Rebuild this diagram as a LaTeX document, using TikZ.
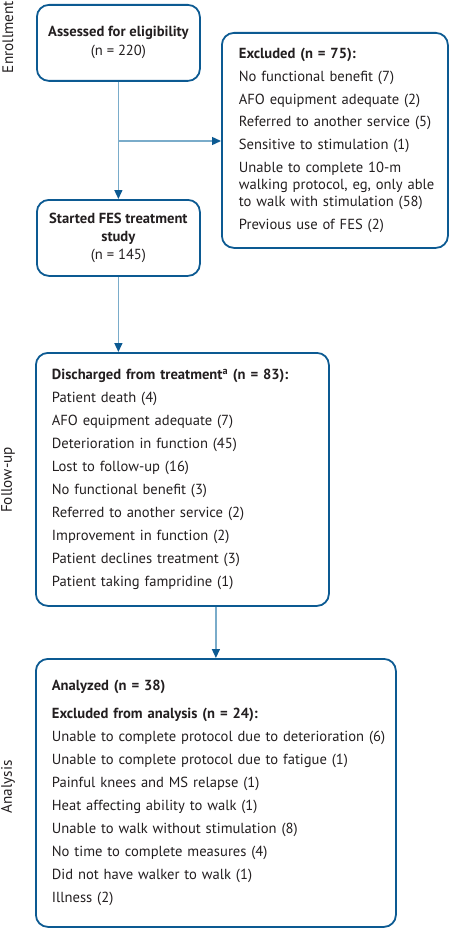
\documentclass[tikz,border=0pt]{standalone}
\usepackage{fontspec}
\setmainfont{PT Sans}
\usetikzlibrary{arrows.meta,calc}
\definecolor{boxblue}{RGB}{12,90,146}
\definecolor{lineblue}{RGB}{122,172,202}
\definecolor{txt}{RGB}{35,31,32}
\hbadness=10000 \hfuzz=100pt
\begin{document}
\begin{tikzpicture}[x=1pt,y=-1pt,
  box/.style={draw=boxblue,line width=1.8pt,rounded corners=12pt,anchor=north west,
    inner sep=0pt,text=txt},
  listbox/.style={box,align=left,font=\fontsize{14.6}{23}\selectfont},
  conn/.style={draw=lineblue,line width=1.4pt,
    -{Triangle[length=9pt,width=8pt,color=boxblue,fill=boxblue]}},
  side/.style={rotate=90,text=txt,font=\fontsize{15.2}{16}\selectfont}]
\useasboundingbox (0,0) rectangle (449,928);
% boxes
\node[box,minimum width=163pt,minimum height=76pt,align=center,
  font=\fontsize{14.6}{19}\selectfont] (a) at (36,4)
  {\textbf{Assessed for eligibility}\\(n = 220)};
\node[box,minimum width=163pt,minimum height=76pt,align=center,
  font=\fontsize{14.6}{18}\selectfont] (b) at (36,199)
  {\textbf{Started FES treatment}\\\textbf{study}\\(n = 145)};
\node[listbox,minimum width=226pt,minimum height=215pt,text width=192pt,
  inner xsep=17pt,font=\fontsize{14.6}{17}\selectfont] (ex) at (221,32)
  {\mbox{\textbf{Excluded (n = 75):}}\\[5.7pt]
   \mbox{No functional benefit (7)}\\[5.7pt]
   \mbox{AFO equipment adequate (2)}\\[5.7pt]
   \mbox{Referred to another service (5)}\\[5.7pt]
   \mbox{Sensitive to stimulation (1)}\\[5.7pt]
   \mbox{Unable to complete 10-m}\\
   \mbox{walking protocol, eg, only able}\\
   \mbox{to walk with stimulation (58)}\\[5.7pt]
   \mbox{Previous use of FES (2)}};
\node[listbox,minimum width=293pt,minimum height=253pt,text width=261pt,
  inner xsep=16pt] (d) at (35,352)
  {\mbox{\textbf{Discharged from treatment\textsuperscript{a} (n = 83):}}\\
   Patient death (4)\\
   AFO equipment adequate (7)\\
   Deterioration in function (45)\\
   Lost to follow-up (16)\\
   No functional benefit (3)\\
   \mbox{Referred to another service (2)}\\
   Improvement in function (2)\\
   \mbox{Patient declines treatment (3)}\\
   \mbox{Patient taking fampridine (1)}};
\node[listbox,minimum width=360pt,minimum height=268pt,text width=328pt,
  inner xsep=16pt] (an) at (35,658)
  {\mbox{\textbf{Analyzed (n = 38)}}\\[5pt]
   \mbox{\textbf{Excluded from analysis (n = 24):}}\\
   \mbox{Unable to complete protocol due to deterioration (6)}\\
   \mbox{Unable to complete protocol due to fatigue (1)}\\
   \mbox{Painful knees and MS relapse (1)}\\
   \mbox{Heat affecting ability to walk (1)}\\
   \mbox{Unable to walk without stimulation (8)}\\
   \mbox{No time to complete measures (4)}\\
   \mbox{Did not have walker to walk (1)}\\
   \mbox{Illness (2)}};
% side labels
\node[side] (l1) at (8,37) {Enrollment};
\node[side] (l2) at (8,480) {Follow-up};
\node[side] (l3) at (8,787) {Analysis};
% connectors
\coordinate (br) at (a.south |- 0,141);
\draw[conn] (a.south) -- (b.north);
\draw[conn] (br) -- (br -| ex.west);
\draw[conn] (b.south) -- (b.south |- d.north);
\draw[conn] (an.north |- d.south) -- (an.north);
\end{tikzpicture}
\end{document}
